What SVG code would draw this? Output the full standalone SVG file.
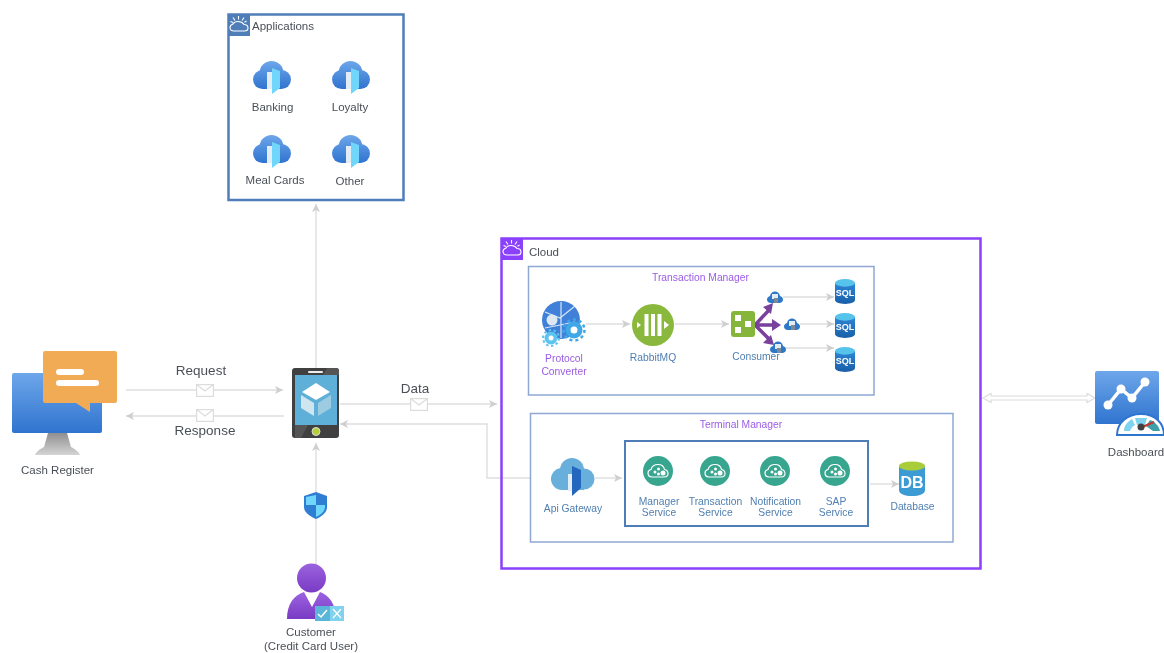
<svg xmlns="http://www.w3.org/2000/svg" width="1164" height="653" viewBox="0 0 1164 653">
<style>
text{font-family:"Liberation Sans",Arial,sans-serif;text-anchor:middle}
.g{font-size:11.500px;fill:#4a4f57}
.b{font-size:10.300px;fill:#4f7fb0}
.p{font-size:10.300px;fill:#9b5de5}
.l{font-size:13.500px;fill:#4a4f57}
.c{fill:none;stroke:#dedede;stroke-width:1.400}
.env{fill:#fff;stroke:#dcdcdc;stroke-width:1.200}
.sql{font-size:9.500px;font-weight:bold;fill:#fff}
</style>
<defs>
<filter id="soft" x="0" y="0" width="1164" height="653" filterUnits="userSpaceOnUse"><feGaussianBlur stdDeviation="0.4"/></filter>
<marker id="a" markerWidth="9" markerHeight="8" refX="8" refY="4" orient="auto" markerUnits="userSpaceOnUse"><path d="M0 0L8 4L0 8L2 4Z" fill="#cfcfcf"/></marker>
<linearGradient id="blue" x1="0" y1="0" x2="0" y2="1"><stop offset="0" stop-color="#6ea6ea"/><stop offset="1" stop-color="#2f74cf"/></linearGradient>
<linearGradient id="cg" gradientUnits="userSpaceOnUse" x1="0" y1="0" x2="0" y2="28"><stop offset="0" stop-color="#6ea6ea"/><stop offset="1" stop-color="#2f74cf"/></linearGradient>
<linearGradient id="purp" x1="0" y1="0" x2="0" y2="1"><stop offset="0" stop-color="#9a63df"/><stop offset="1" stop-color="#7a3bc4"/></linearGradient>
<linearGradient id="sq" x1="0" y1="0" x2="0" y2="1"><stop offset="0" stop-color="#2e86d6"/><stop offset="1" stop-color="#1a5fa8"/></linearGradient>
<linearGradient id="stand" x1="0" y1="0" x2="0" y2="1"><stop offset="0" stop-color="#8f8f8f"/><stop offset="1" stop-color="#d4d4d4"/></linearGradient>
<symbol id="app" viewBox="0 0 38 34" overflow="visible">
<g fill="url(#cg)"><circle cx="9.500" cy="18.500" r="9.500"/><circle cx="18.500" cy="12" r="12"/><circle cx="28.500" cy="18.500" r="9.500"/><rect x="9.500" y="14" width="19" height="14"/></g>
<path d="M14 11H20V28H14Z" fill="#e3edf6"/>
<path d="M19 7L27 10V27L19 33Z" fill="#6fd6fb"/>
</symbol>
<symbol id="env" viewBox="0 0 18 13" overflow="visible">
<rect x=".6" y=".6" width="16.800" height="11.800" class="env"/><path d="M.6 .6L9 7L17.400 .6" fill="none" stroke="#dcdcdc" stroke-width="1.200"/>
</symbol>
<symbol id="cyl" viewBox="0 0 21 26" overflow="visible">
<path d="M0 4V22C0 24.500 4.500 26 10.500 26C16.500 26 21 24.500 21 22V4Z" fill="url(#sq)"/>
<ellipse cx="10.500" cy="4" rx="10.500" ry="4" fill="#57c3ea"/>
<text x="10.500" y="18" class="sql">SQL</text>
</symbol>
<symbol id="svc" viewBox="0 0 30 30" overflow="visible">
<circle cx="15" cy="15" r="15" fill="#37a58f"/>
<path d="M9 21C6 21 5 19 5 17C5 15 6 14 8 13.500C9 10 12 8.500 15 8.500C19 8.500 21 11 21.500 13.500C24 14 25 15.500 25 17.500C25 19.500 23.500 21 21 21Z" fill="none" stroke="#fff" stroke-width="1.200"/>
<circle cx="12" cy="16" r="1.500" fill="#fff"/><circle cx="15.500" cy="13" r="1.500" fill="#fff"/><circle cx="15.500" cy="18" r="1.500" fill="#fff"/><circle cx="20" cy="17" r="2.500" fill="#fff"/>
</symbol>
<symbol id="mini" viewBox="0 0 16 13" overflow="visible">
<path d="M4 12C1.500 12 0 10.500 0 8.500C0 6.500 1.500 5.500 3 5C3.500 2 5.500 .5 8 .5C10.500 .5 12.500 2 13 5C14.500 5.500 16 6.500 16 8.500C16 10.500 14.500 12 12 12Z" fill="#2f78c8"/>
<rect x="5" y="3" width="6" height="5" fill="#e4ebf2"/><rect x="7" y="7" width="4" height="5" fill="#7d8a96"/>
</symbol>
<symbol id="ibm" viewBox="0 0 22 22" overflow="visible">
<path d="M6 17C3.500 17 2 15.500 2 13.500C2 11.500 3.500 10.500 5 10C6 8 8 7.500 10 7.500C13 7.500 15 9 16 10.500C18.500 10.500 20 12 20 14C20 16 18.500 17 16.500 17Z" fill="none" stroke="#fff" stroke-width="1.100"/>
<path d="M10.500 2V5.500M5 3.500L7 6.500M16 3.500L14 6.500M2.500 7.500L5 8.500M18.500 7L16.500 8.200" stroke="#fff" stroke-width="1.100"/>
</symbol>
</defs>
<g filter="url(#soft)">
<rect width="1164" height="653" fill="#fff"/>

<g id="connectors">
<path class="c" d="M316 368V204" marker-end="url(#a)"/>
<path class="c" d="M316 565V443" marker-end="url(#a)"/>
<path class="c" d="M126 390H283" marker-end="url(#a)"/>
<path class="c" d="M284 416H126" marker-end="url(#a)"/>
<path class="c" d="M340 404H497" marker-end="url(#a)"/>
<path class="c" d="M530 478H487V424H340" marker-end="url(#a)"/>
<path class="c" d="M586 324H630" marker-end="url(#a)"/>
<path class="c" d="M675 324H729" marker-end="url(#a)"/>
<path class="c" d="M783 297H834" marker-end="url(#a)"/>
<path class="c" d="M800 324H834" marker-end="url(#a)"/>
<path class="c" d="M785 348H834" marker-end="url(#a)"/>
<path class="c" d="M595 478H622" marker-end="url(#a)"/>
<path class="c" d="M870 484H899" marker-end="url(#a)"/>
<path d="M983 398L991 393.500V396H1087V393.500L1095 398L1087 402.500V400H991V402.500Z" fill="#fff" stroke="#dcdcdc" stroke-width="1.200"/>
<use href="#env" x="196" y="384" width="18" height="13"/>
<use href="#env" x="196" y="409" width="18" height="13"/>
<use href="#env" x="410" y="398" width="18" height="13"/>
<text class="l" x="201" y="375">Request</text>
<text class="l" x="205" y="435">Response</text>
<text class="l" x="415" y="393">Data</text>
</g>

<g id="applications">
<rect x="228.500" y="14.500" width="175" height="185.500" fill="#fff" stroke="#4f7db8" stroke-width="2.500"/>
<path d="M228 14H250V36H228Z" fill="#4f7db8"/>
<use href="#ibm" x="228" y="14" width="22" height="22"/>
<text class="g" x="283" y="30">Applications</text>
</g>
<g id="banking"><use href="#app" x="253" y="61" width="38" height="34"/><text class="g" x="272.500" y="111">Banking</text></g>
<g id="loyalty"><use href="#app" x="332" y="61" width="38" height="34"/><text class="g" x="350" y="111">Loyalty</text></g>
<g id="meal-cards"><use href="#app" x="253" y="135" width="38" height="34"/><text class="g" x="275" y="184">Meal Cards</text></g>
<g id="other"><use href="#app" x="332" y="135" width="38" height="34"/><text class="g" x="350" y="185">Other</text></g>

<g id="cash-register">
<path d="M48 433H67L71 447C75 449 79 452 80 455H35C36 452 40 449 44 447Z" fill="url(#stand)"/>
<rect x="12" y="373" width="90" height="60" rx="2" fill="url(#blue)"/>
<path d="M45 351H115Q117 351 117 353V401Q117 403 115 403H90V412L76 403H45Q43 403 43 401V353Q43 351 45 351Z" fill="#f2ab55"/>
<rect x="56" y="369" width="28" height="6" rx="3" fill="#fff"/><rect x="56" y="380" width="43" height="6" rx="3" fill="#fff"/>
<text class="g" x="57.500" y="474">Cash Register</text>
</g>

<g id="tablet">
<rect x="292" y="368" width="47" height="70" rx="3" fill="#3f3f3f"/>
<path d="M327 368H336Q339 368 339 371V375H323Z" fill="#555"/>
<path d="M295 425H308L301 438H295Z" fill="#555"/>
<rect x="295" y="375" width="42" height="50" fill="#5fb0d8"/>
<rect x="308" y="371" width="15" height="2" rx="1" fill="#eee"/>
<circle cx="316" cy="431.500" r="4" fill="#b5cf3b" stroke="#ddd" stroke-width="1"/>
<path d="M316 383L330 392L316 400L302 392Z" fill="#fff"/>
<path d="M301 395L314 403V416L301 408Z" fill="#cfe6f1"/>
<path d="M331 395L318 403V416L331 408Z" fill="#9ccbe2"/>
</g>

<g id="shield">
<path d="M316 492L327 496V507C327 513 321 517 316 519C311 517 304 513 304 507V496Z" fill="#2f7fd3"/>
<path d="M316 495V505H306V497ZM316 505H325V507C325 512 320 515 316 517Z" fill="#6fd6fb"/>
</g>

<g id="customer">
<circle cx="311.500" cy="578" r="14.500" fill="url(#purp)"/>
<path d="M287 619C287 604 294 595 304 592L312 607L320 592C329 595 336 604 336 619Z" fill="url(#purp)"/>
<rect x="315" y="606" width="15" height="15" fill="#5ab5d8"/><rect x="330" y="606" width="14" height="15" fill="#7fd3ee"/>
<path d="M318 614L321 617L327 610" fill="none" stroke="#fff" stroke-width="1.500"/>
<path d="M333 609L341 618M341 609L333 618" fill="none" stroke="#fff" stroke-width="1.200"/>
<text class="g" x="311" y="636">Customer</text>
<text class="g" x="311" y="650">(Credit Card User)</text>
</g>

<g id="cloud">
<rect x="501.500" y="238.500" width="479" height="330" fill="none" stroke="#8a3ffc" stroke-width="2.500"/>
<path d="M501 238H523V260H501Z" fill="#8a3ffc"/>
<use href="#ibm" x="501" y="238" width="22" height="22"/>
<text class="g" x="544" y="256">Cloud</text>
</g>

<g id="transaction-manager">
<rect x="528.500" y="266.500" width="345.500" height="128.500" fill="none" stroke="#8ea8d2" stroke-width="1.500"/>
<text class="p" x="700.500" y="281">Transaction Manager</text>
</g>

<g id="protocol-converter">
<circle cx="561" cy="320" r="19" fill="#3f80d8"/>
<path d="M545 312L560 318L575 306M561 302V338M545 328L575 322" stroke="#d6e6f7" stroke-width="1.200" fill="none"/>
<circle cx="552" cy="320" r="5.500" fill="#dfe8f2"/>
<circle cx="574" cy="330" r="6" fill="#fff" stroke="#3fa8e6" stroke-width="5"/>
<circle cx="574" cy="330" r="10.500" fill="none" stroke="#3fa8e6" stroke-width="2.500" stroke-dasharray="3 3"/>
<circle cx="551" cy="338" r="4.500" fill="#fff" stroke="#5cc4ee" stroke-width="4"/>
<circle cx="551" cy="338" r="8" fill="none" stroke="#5cc4ee" stroke-width="2" stroke-dasharray="2.500 2.500"/>
<text class="p" x="564" y="362">Protocol</text><text class="p" x="564" y="375">Converter</text>
</g>

<g id="rabbitmq">
<circle cx="653" cy="325" r="21" fill="#8ab83e"/>
<rect x="644.500" y="314" width="4" height="22" fill="#fff"/><rect x="651" y="314" width="4" height="22" fill="#fff"/><rect x="657.500" y="314" width="4" height="22" fill="#fff"/>
<path d="M637 322L641 325L637 328ZM664 321L669 325L664 329Z" fill="#fff"/>
<text class="b" x="653" y="361">RabbitMQ</text>
</g>

<g id="consumer">
<path d="M755 325L770 309M755 325H776M755 325L770 340" stroke="#7a3f9d" stroke-width="3.500" fill="none"/>
<path d="M773 303L771 314L763 307ZM781 325L772 319V331ZM774 345L763 343L771 335Z" fill="#7a3f9d"/>
<rect x="731" y="311" width="24" height="26" rx="3" fill="#86b53a"/>
<rect x="735" y="315" width="6" height="6" fill="#fff"/><rect x="735" y="327" width="6" height="6" fill="#fff"/><rect x="745" y="321" width="6" height="6" fill="#fff"/>
<text class="b" x="756" y="360">Consumer</text>
</g>
<g id="queue-1"><use href="#mini" x="767" y="291" width="16" height="13"/></g>
<g id="queue-2"><use href="#mini" x="784" y="318" width="16" height="13"/></g>
<g id="queue-3"><use href="#mini" x="770" y="341" width="16" height="13"/></g>
<g id="sql-1"><use href="#cyl" x="835" y="279" width="20" height="25"/></g>
<g id="sql-2"><use href="#cyl" x="835" y="313" width="20" height="25"/></g>
<g id="sql-3"><use href="#cyl" x="835" y="347" width="20" height="25"/></g>

<g id="terminal-manager">
<rect x="530.500" y="413.500" width="422.500" height="128.500" fill="none" stroke="#8ea8d2" stroke-width="1.500"/>
<text class="p" x="741" y="428">Terminal Manager</text>
</g>

<g id="api-gateway">
<g fill="#67afdc"><circle cx="562" cy="479" r="11"/><circle cx="572" cy="470" r="12"/><circle cx="584" cy="479" r="10.500"/><rect x="562" y="476" width="22" height="14"/></g>
<path d="M568 474H573V491H568Z" fill="#e3edf5"/>
<path d="M572 466L581 470V488L572 496Z" fill="#2466bd"/>
<text class="b" x="573" y="512">Api Gateway</text>
</g>

<g id="services">
<rect x="625" y="441" width="243" height="85" fill="none" stroke="#4f7db8" stroke-width="2"/>
</g>
<g id="manager-service"><use href="#svc" x="643" y="456" width="30" height="30"/><text class="b" x="659" y="504.500">Manager</text><text class="b" x="659" y="516">Service</text></g>
<g id="transaction-service"><use href="#svc" x="700" y="456" width="30" height="30"/><text class="b" x="715.500" y="504.500">Transaction</text><text class="b" x="715.500" y="516">Service</text></g>
<g id="notification-service"><use href="#svc" x="760" y="456" width="30" height="30"/><text class="b" x="775.500" y="504.500">Notification</text><text class="b" x="775.500" y="516">Service</text></g>
<g id="sap-service"><use href="#svc" x="820" y="456" width="30" height="30"/><text class="b" x="836" y="504.500">SAP</text><text class="b" x="836" y="516">Service</text></g>

<g id="database">
<path d="M899 467V490C899 494 905 496 912 496C919 496 925 494 925 490V467Z" fill="#3e9bd4"/>
<ellipse cx="912" cy="466" rx="13" ry="4.500" fill="#a9cc3a"/>
<text x="912" y="488" style="font-size:16px;font-weight:bold;fill:#fff">DB</text>
<text class="b" x="912.500" y="510">Database</text>
</g>

<g id="dashboard">
<rect x="1095" y="371" width="64" height="53" rx="2" fill="url(#blue)"/>
<path d="M1108 405L1121 389L1132 398L1145 382" fill="none" stroke="#fff" stroke-width="3.500"/>
<circle cx="1108" cy="405" r="4.500" fill="#fff"/><circle cx="1121" cy="389" r="4.500" fill="#fff"/><circle cx="1132" cy="398" r="4.500" fill="#fff"/><circle cx="1145" cy="382" r="4.500" fill="#fff"/>
<path d="M1117 435C1117 423 1127 414 1141 414C1155 414 1164 423 1164 435Z" fill="#fff" stroke="#2f74cf" stroke-width="2"/>
<path d="M1124 431C1124 426 1127 422 1132 419L1135 425C1133 426 1131 428 1130 431Z" fill="#7fd3ee"/>
<path d="M1135 418H1147L1145 425H1137Z" fill="#7fd3ee"/>
<path d="M1150 420L1146 426L1153 431H1160C1159 426 1155 422 1150 420Z" fill="#3ea0a8"/>
<path d="M1140 428L1154 422" stroke="#c8352b" stroke-width="2"/>
<circle cx="1141" cy="427" r="3.500" fill="#3f3f3f"/>
<text class="g" x="1136" y="456">Dashboard</text>
</g>
</g>
</svg>
